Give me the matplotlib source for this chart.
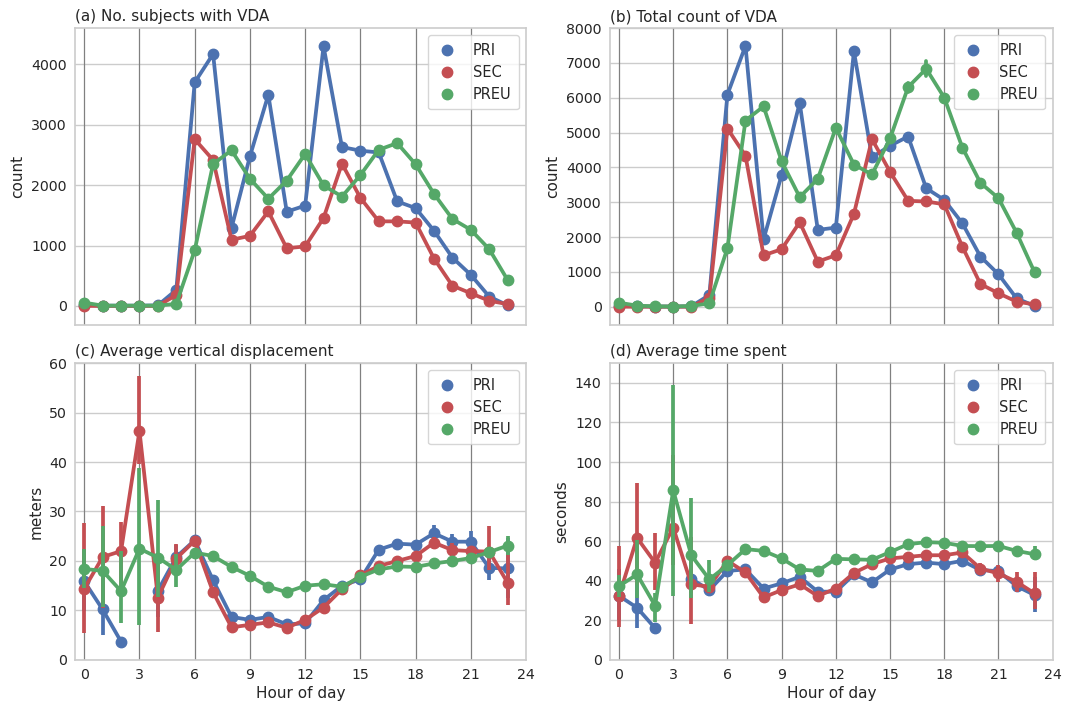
import numpy as np
import matplotlib
matplotlib.use("Agg")
import matplotlib.pyplot as plt
import seaborn as sns

nan = np.nan
hours = list(range(24))
groups = ["PRI", "SEC", "PREU"]
colors = ["#4C72B0", "#C44E52", "#55A868"]

# (a) No. subjects with VDA
a_pri = [20, 5, 5, 5, 10, 265, 3700, 4170, 1290, 2475, 3495, 1560, 1660, 4300, 2630, 2570, 2540, 1730, 1620, 1245, 800, 515, 155, 10]
a_sec = [0, 0, 0, 0, 0, 182, 2760, 2415, 1095, 1160, 1565, 955, 985, 1455, 2355, 1790, 1400, 1400, 1380, 785, 335, 210, 85, 30]
a_preu = [55, 5, 5, 5, 5, 35, 920, 2350, 2575, 2105, 1775, 2075, 2515, 1995, 1810, 2165, 2585, 2695, 2345, 1855, 1440, 1260, 940, 430]

# (b) Total count of VDA
b_pri = [20, 10, 5, 5, 10, 335, 6090, 7490, 1935, 3785, 5855, 2205, 2270, 7330, 4290, 4620, 4885, 3400, 3065, 2395, 1440, 930, 240, 20]
b_sec = [0, 0, 0, 0, 0, 260, 5115, 4330, 1475, 1650, 2425, 1295, 1475, 2665, 4810, 3870, 3040, 3020, 2940, 1725, 650, 385, 145, 65]
b_preu = [115, 30, 10, 5, 20, 95, 1680, 5345, 5750, 4175, 3145, 3670, 5135, 4080, 3795, 4830, 6305, 6830, 6000, 4570, 3555, 3115, 2125, 985]
b_preu_err = [nan] * 16 + [130, 220] + [nan] * 6

# (c) Average vertical displacement
c_pri = [15.9, 10.2, 3.7, nan, 14.0, 20.8, 24.2, 16.1, 8.7, 8.1, 8.7, 7.2, 7.4, 12.1, 15.0, 16.3, 22.3, 23.5, 23.3, 25.6, 23.9, 23.9, 18.6, 18.5]
c_pri_lo = [9.8, 5.0, nan, nan, 8.7, 18.5, nan, nan, nan, nan, nan, nan, nan, nan, nan, nan, nan, 22.6, nan, 23.9, 22.3, 21.3, 16.2, 12.5]
c_pri_hi = [22.5, 16.5, nan, nan, 20.0, 23.2, nan, nan, nan, nan, nan, nan, nan, nan, nan, nan, nan, 24.4, nan, 27.2, 25.5, 26.1, 21.0, 24.6]
c_sec = [14.4, 20.8, 22.0, 46.3, 12.6, 20.5, 24.1, 13.7, 6.6, 7.1, 7.6, 6.5, 8.1, 10.6, 14.3, 17.1, 19.0, 20.0, 21.0, 23.7, 22.2, 22.0, 21.9, 15.6]
c_sec_lo = [5.4, 10.5, 14.5, 39.5, 5.7, 17.5, nan, nan, nan, nan, nan, nan, nan, nan, nan, nan, nan, nan, nan, 22.5, 21.0, nan, 18.2, 11.1]
c_sec_hi = [27.6, 31.1, 27.9, 57.3, 19.5, 23.4, nan, nan, nan, nan, nan, nan, nan, nan, nan, nan, nan, nan, nan, 24.9, 23.6, nan, 27.0, 21.5]
c_preu = [18.4, 18.0, 13.9, 22.5, 20.7, 18.2, 21.7, 21.0, 18.8, 17.0, 14.8, 13.7, 15.0, 15.3, 14.8, 16.8, 18.3, 18.9, 18.8, 19.5, 20.0, 20.6, 21.8, 23.1]
c_preu_lo = [14.5, 10.8, 7.4, 7.1, 12.8, 14.8] + [nan] * 17 + [21.3]
c_preu_hi = [22.5, 27.1, 22.1, 38.8, 32.3, 21.5] + [nan] * 17 + [25.0]

# (d) Average time spent
d_pri = [32.4, 26.4, 16.0, nan, 41.0, 35.3, 45.0, 45.7, 36.1, 38.7, 42.0, 34.5, 34.5, 43.2, 39.2, 45.7, 48.4, 49.2, 48.4, 50.1, 45.4, 44.9, 37.3, 32.8]
d_pri_lo = [20.2, 16.0, nan, nan, 34.0, 33.0] + [nan] * 16 + [34.5, 24.4]
d_pri_hi = [46.2, 38.0, nan, nan, 48.0, 38.0] + [nan] * 16 + [40.5, 42.0]
d_sec = [32.3, 61.7, 49.1, 66.9, 38.2, 37.0, 50.1, 44.2, 31.6, 35.3, 38.2, 32.3, 36.1, 44.0, 48.4, 51.3, 52.1, 52.9, 52.9, 54.3, 46.2, 43.7, 39.5, 33.6]
d_sec_lo = [16.8, 38.0, 35.3, 47.9, 18.2, 34.0] + [nan] * 13 + [51.5, 43.5, 39.5, 34.5, 25.5]
d_sec_hi = [57.5, 89.4, 64.2, 103.4, 62.0, 40.0] + [nan] * 13 + [57.0, 49.0, 48.0, 44.5, 44.5]
d_preu = [37.3, 43.2, 27.4, 85.7, 52.9, 40.7, 47.9, 56.0, 55.1, 51.3, 45.7, 45.0, 51.1, 50.8, 50.6, 54.5, 58.5, 59.5, 59.2, 57.6, 57.5, 57.6, 55.1, 53.4]
d_preu_lo = [32.0, 31.1, 19.3, 32.3, 31.1, 34.5] + [nan] * 17 + [50.4]
d_preu_hi = [42.9, 60.5, 33.6, 138.7, 82.0, 50.4] + [nan] * 17 + [57.6]

sns.set_theme(style="whitegrid", palette="deep")
plt.rcParams["font.family"] = ["DejaVu Sans"]

fig = plt.figure(figsize=(10.72, 7.06), dpi=100)
axa = fig.add_axes([0.070, 0.5397, 0.4207, 0.4206])
axb = fig.add_axes([0.569, 0.5397, 0.413, 0.4206])
axc = fig.add_axes([0.070, 0.0652, 0.4207, 0.4206])
axd = fig.add_axes([0.569, 0.0652, 0.413, 0.4206])

x = np.array(hours)


def draw(ax, series, los=None, his=None):
    for i, (vals, col, lab) in enumerate(zip(series, colors, groups)):
        v = np.array(vals, dtype=float)
        if los is not None:
            lo = np.array(los[i], dtype=float)
            hi = np.array(his[i], dtype=float)
            for xx, l, h in zip(x, lo, hi):
                if not (np.isnan(l) or np.isnan(h)):
                    ax.plot([xx, xx], [l, h], color=col, lw=2.7, solid_capstyle="butt", zorder=3 + i)
        ax.plot(x, v, color=col, lw=2.7, zorder=3 + i)
        ax.plot(x, v, ls="none", marker="o", ms=7.5, color=col, zorder=3 + i, label=lab)


def style(ax, title, ylabel, yticks, ylim, bottom):
    ax.set_xlim(-0.5, 24)
    ax.set_ylim(*ylim)
    ax.set_xticks(range(0, 25, 3))
    ax.set_yticks(yticks)
    ax.grid(axis="y", color="0.8", lw=1.0)
    ax.grid(axis="x", visible=False)
    for h in range(0, 24, 3):
        ax.axvline(h, color="0.5", lw=0.9, zorder=1)
    for s in ax.spines.values():
        s.set_color("0.8")
        s.set_linewidth(1.2)
    ax.set_title(title, loc="left", fontsize=11, pad=5)
    ax.set_ylabel(ylabel, fontsize=11)
    ax.tick_params(axis="both", labelsize=10.2, length=0, pad=6)
    if bottom:
        ax.set_xlabel("Hour of day", fontsize=11, labelpad=3)
    else:
        ax.set_xticklabels([])
    leg = ax.legend(loc="upper right", fontsize=10.5, frameon=True, handlelength=1.6,
                    handletextpad=1.0, borderpad=0.5, labelspacing=0.5,
                    borderaxespad=0.5)
    leg.get_frame().set_edgecolor("0.8")


draw(axa, [a_pri, a_sec, a_preu])
style(axa, "(a) No. subjects with VDA", "count", range(0, 4001, 1000), (-315, 4600), False)

draw(axb, [b_pri, b_sec, b_preu])
pe = np.array(b_preu_err, dtype=float)
for xx, v, e in zip(x, b_preu, pe):
    if not np.isnan(e):
        axb.plot([xx, xx], [v - e, v + e], color=colors[2], lw=2.7, zorder=5)
style(axb, "(b) Total count of VDA", "count", range(0, 8001, 1000), (-525, 8000), False)

draw(axc, [c_pri, c_sec, c_preu], [c_pri_lo, c_sec_lo, c_preu_lo], [c_pri_hi, c_sec_hi, c_preu_hi])
style(axc, "(c) Average vertical displacement", "meters", range(0, 61, 10), (0, 60), True)

draw(axd, [d_pri, d_sec, d_preu], [d_pri_lo, d_sec_lo, d_preu_lo], [d_pri_hi, d_sec_hi, d_preu_hi])
style(axd, "(d) Average time spent", "seconds", range(0, 141, 20), (0, 150), True)

fig.savefig("out.png", dpi=100)
